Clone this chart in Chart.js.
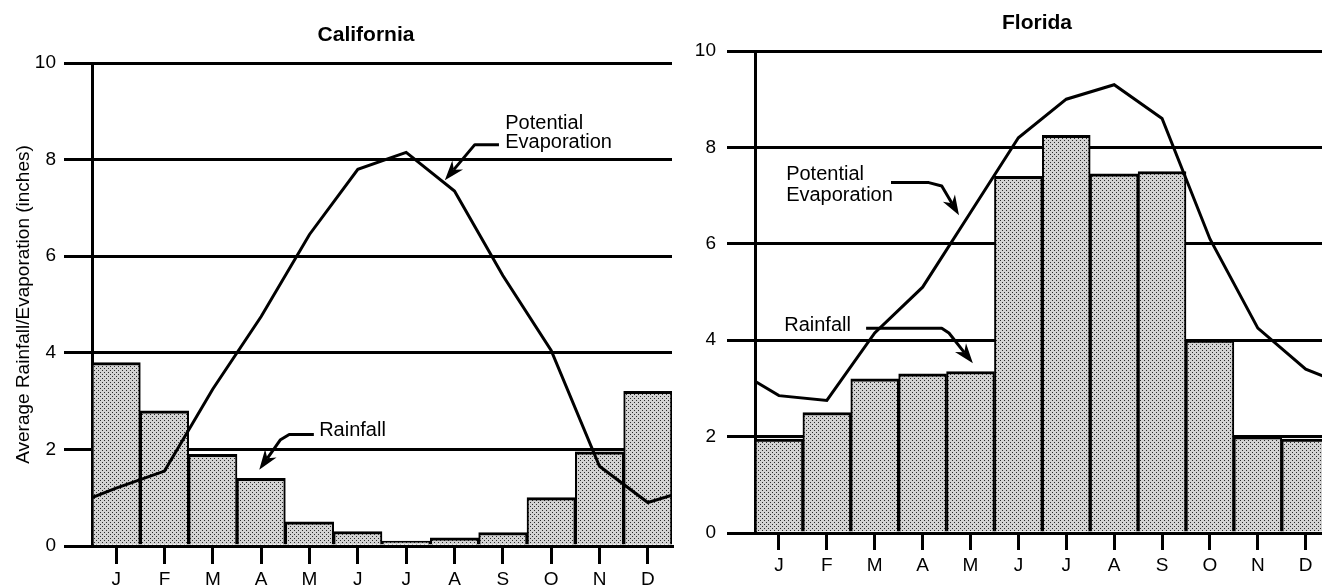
<!DOCTYPE html>
<html>
<head>
<meta charset="utf-8">
<script src="https://cdn.jsdelivr.net/npm/chart.js@4.4.1/dist/chart.umd.min.js"></script>
<style>
  html, body { margin: 0; padding: 0; background: #fff; }
  body { width: 1322px; height: 588px; position: relative; overflow: hidden; }
  canvas { position: absolute; top: 0; }
  #caChart { left: 0; }
  #flChart { left: 680px; }
</style>
</head>
<body>
<canvas id="caChart" width="680" height="588"></canvas>
<canvas id="flChart" width="642" height="588"></canvas>
<script>
const months = ['J', 'F', 'M', 'A', 'M', 'J', 'J', 'A', 'S', 'O', 'N', 'D'];
const yTicks = [0, 2, 4, 6, 8, 10];

// California, inches per month
const caRain = [3.8, 2.8, 1.9, 1.4, 0.5, 0.3, 0.1, 0.17, 0.28, 1.0, 1.95, 3.2];
const caEvap = [1.2, 1.55, 3.25, 4.75, 6.45, 7.8, 8.15, 7.35, 5.6, 4.05, 1.65, 0.9];
const caEvapEdges = [1.0, 1.05]; // value where the curve meets the left / right frame

// Florida, inches per month
const flRain = [1.95, 2.5, 3.2, 3.3, 3.35, 7.4, 8.25, 7.45, 7.5, 4.0, 2.0, 1.95];
const flEvap = [2.85, 2.75, 4.15, 5.1, 6.65, 8.2, 9.0, 9.3, 8.6, 6.1, 4.25, 3.4];
const flEvapEdges = [3.15, 3.2];

const FONT = "'Liberation Sans', Arial, Helvetica, sans-serif";

function dotPattern(ctx) {
  const tile = document.createElement('canvas');
  tile.width = 4; tile.height = 4;
  const g = tile.getContext('2d');
  g.fillStyle = '#d2d2d2';
  g.fillRect(0, 0, 4, 4);
  g.fillStyle = '#2a2a2a';
  g.fillRect(0, 0, 1, 1);
  g.fillRect(2, 2, 1, 1);
  return ctx.createPattern(tile, 'repeat');
}

// labels, arrows and panel title
const notesPlugin = {
  id: 'notes',
  afterDatasetsDraw(chart, args, opts) {
    const { ctx, scales: { x, y } } = chart;
    ctx.save();
    ctx.fillStyle = '#000';
    ctx.strokeStyle = '#000';
    ctx.font = '20px ' + FONT;
    ctx.textAlign = 'left';
    ctx.textBaseline = 'alphabetic';
    (opts.texts || []).forEach(t => {
      ctx.fillText(t.text, x.getPixelForValue(t.x), y.getPixelForValue(t.y));
    });
    (opts.arrows || []).forEach(a => {
      const pts = a.map(p => [x.getPixelForValue(p[0]), y.getPixelForValue(p[1])]);
      const [tx, ty] = pts[pts.length - 1];
      const [px, py] = pts[pts.length - 2];
      const ang = Math.atan2(ty - py, tx - px);
      const c = Math.cos(ang), s = Math.sin(ang);
      const len = 20, half = 7;
      ctx.lineWidth = 3;
      ctx.lineJoin = 'round';
      ctx.beginPath();
      pts.forEach((p, i) => {
        if (i === 0) ctx.moveTo(p[0], p[1]);
        else if (i === pts.length - 1) ctx.lineTo(tx - c * len * 0.7, ty - s * len * 0.7);
        else ctx.lineTo(p[0], p[1]);
      });
      ctx.stroke();
      ctx.beginPath();
      ctx.moveTo(tx, ty);
      ctx.lineTo(tx - len * c + half * s, ty - len * s - half * c);
      ctx.lineTo(tx - len * c * 0.7, ty - len * s * 0.7);
      ctx.lineTo(tx - len * c - half * s, ty - len * s + half * c);
      ctx.closePath();
      ctx.fill();
    });
    if (opts.title) {
      ctx.font = 'bold 21px ' + FONT;
      ctx.textAlign = 'center';
      ctx.fillText(opts.title, opts.titleX, opts.titleY);
    }
    ctx.restore();
  }
};

function monthPoints(vals) {
  return vals.map((v, i) => ({ x: i, y: v }));
}

function makePanel(id, cfg) {
  const canvas = document.getElementById(id);
  const ctx = canvas.getContext('2d');
  const evapData = [{ x: -0.5, y: cfg.edges[0] }]
    .concat(monthPoints(cfg.evap))
    .concat([{ x: 11.5, y: cfg.edges[1] }]);

  return new Chart(ctx, {
    type: 'bar',
    data: {
      datasets: [
        {
          type: 'line',
          label: 'Potential Evaporation',
          data: evapData,
          borderColor: '#000',
          borderWidth: 3,
          pointRadius: 0,
          tension: 0,
          order: 0
        },
        {
          type: 'bar',
          label: 'Rainfall',
          data: monthPoints(cfg.rain),
          backgroundColor: dotPattern(ctx),
          borderColor: '#000',
          borderWidth: { top: 3, left: 2, right: 2, bottom: 0 },
          borderSkipped: false,
          barPercentage: 1,
          categoryPercentage: 1,
          grouped: false,
          order: 1
        }
      ]
    },
    plugins: [notesPlugin],
    options: {
      responsive: false,
      animation: false,
      layout: { padding: { top: cfg.top, right: cfg.right, bottom: 0, left: 0 } },
      plugins: {
        legend: { display: false },
        tooltip: { enabled: false },
        notes: cfg.notes
      },
      scales: {
        x: {
          type: 'linear',
          offset: false,
          min: -0.5,
          max: cfg.xMax,
          afterBuildTicks: s => { s.ticks = months.map((m, i) => ({ value: i })); },
          afterFit: s => { s.height = cfg.xAxisH; },
          grid: { offset: false, drawOnChartArea: false, tickLength: cfg.xTick, color: '#000', lineWidth: 3 },
          border: { display: true, color: '#000', width: 3 },
          ticks: {
            callback: v => months[v],
            color: '#000',
            font: { family: FONT, size: 19 },
            padding: 4,
            maxRotation: 0,
            autoSkip: false
          }
        },
        y: {
          min: 0,
          max: 10,
          afterBuildTicks: s => { s.ticks = yTicks.map(v => ({ value: v })); },
          afterFit: s => { s.width = cfg.yAxisW; },
          grid: { color: '#000', lineWidth: 3, tickLength: 28 },
          border: { display: true, color: '#000', width: 3 },
          ticks: { color: '#000', font: { family: FONT, size: 19 }, padding: cfg.yPad },
          title: {
            display: !!cfg.yTitle,
            text: cfg.yTitle || '',
            color: '#000',
            font: { family: FONT, size: 19 },
            padding: { top: 12, bottom: 0 }
          }
        }
      }
    }
  });
}

makePanel('caChart', {
  rain: caRain,
  evap: caEvap,
  edges: caEvapEdges,
  top: 63, right: 8, xAxisH: 42, yAxisW: 92, yPad: 8, xMax: 11.5, xTick: 18,
  yTitle: 'Average Rainfall/Evaporation (inches)',
  notes: {
    title: 'California', titleX: 366, titleY: 41,
    texts: [
      { text: 'Potential', x: 8.05, y: 8.64 },
      { text: 'Evaporation', x: 8.05, y: 8.23 },
      { text: 'Rainfall', x: 4.2, y: 2.27 }
    ],
    arrows: [
      [[7.92, 8.31], [7.42, 8.31], [6.8, 7.57]],
      [[4.09, 2.31], [3.58, 2.31], [3.4, 2.2], [2.96, 1.58]]
    ]
  }
});

makePanel('flChart', {
  rain: flRain,
  evap: flEvap,
  edges: flEvapEdges,
  top: 51, right: 0, xAxisH: 55, yAxisW: 75, yPad: 11, xMax: 11.34, xTick: 17,
  yTitle: '',
  notes: {
    title: 'Florida', titleX: 357, titleY: 29,
    texts: [
      { text: 'Potential', x: 0.15, y: 7.32 },
      { text: 'Evaporation', x: 0.15, y: 6.88 },
      { text: 'Rainfall', x: 0.11, y: 4.2 }
    ],
    arrows: [
      [[2.34, 7.27], [3.13, 7.27], [3.4, 7.2], [3.76, 6.59]],
      [[1.82, 4.25], [3.4, 4.25], [3.55, 4.15], [4.05, 3.52]]
    ]
  }
});
</script>
</body>
</html>
